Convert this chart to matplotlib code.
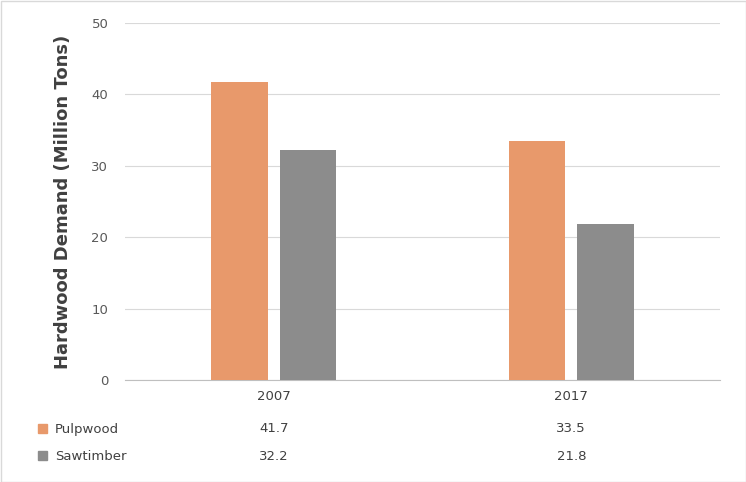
import matplotlib
matplotlib.use("Agg")
import matplotlib.pyplot as plt
from matplotlib.patches import Rectangle

categories = ["2007", "2017"]
series_names = ["Pulpwood", "Sawtimber"]
pulpwood = [41.7, 33.5]
sawtimber = [32.2, 21.8]
colors = ["#E8996B", "#8C8C8C"]

W, H = 746, 482
fig = plt.figure(figsize=(W/100, H/100), dpi=100)
fig.patches.append(Rectangle((0.5/W, 0.5/H), 1-1/W, 1-1/H, transform=fig.transFigure,
                             fill=False, edgecolor="#D9D9D9", lw=1))
ax = fig.add_axes([125/W, 1-380/H, (720-125)/W, (380-23)/H])
x = range(len(categories))
bw = 0.19
for i, (vals, c) in enumerate(zip([pulpwood, sawtimber], colors)):
    off = (-0.5 + i) * (bw + 0.04)
    ax.bar([xi + off for xi in x], vals, width=bw, color=c, zorder=3)
ax.set_xlim(-0.5, 1.5)
ax.set_ylim(0, 50)
ax.set_yticks(range(0, 51, 10))
ax.grid(axis="y", color="#D9D9D9", lw=0.8, zorder=0)
for s in ["top", "right", "left"]:
    ax.spines[s].set_visible(False)
ax.spines["bottom"].set_color("#BFBFBF")
ax.tick_params(axis="y", length=0, labelsize=9.5, labelcolor="#595959", pad=12)
ax.tick_params(axis="x", length=0, labelbottom=False)
ax.set_ylabel("Hardwood Demand (Million Tons)", fontsize=13, fontweight="bold",
              color="#404040", labelpad=14)

def fx(d):
    return ax.transData.transform((d, 0))[0] / W

for xi, cat in zip(x, categories):
    fig.text(fx(xi), 1-397/H, cat, ha="center", va="center", fontsize=9.5, color="#404040")
rows_y = [429, 456]
for name, vals, c, yy in zip(series_names, [pulpwood, sawtimber], colors, rows_y):
    fig.patches.append(Rectangle((38/W, 1-(yy+4)/H), 9/W, 9/H, transform=fig.transFigure,
                                 color=c))
    fig.text(55/W, 1-yy/H, name, ha="left", va="center", fontsize=9.5, color="#404040")
    for xi, v in zip(x, vals):
        fig.text(fx(xi), 1-yy/H, f"{v:.1f}", ha="center", va="center", fontsize=9.5, color="#404040")

fig.savefig("out.png", dpi=100)
